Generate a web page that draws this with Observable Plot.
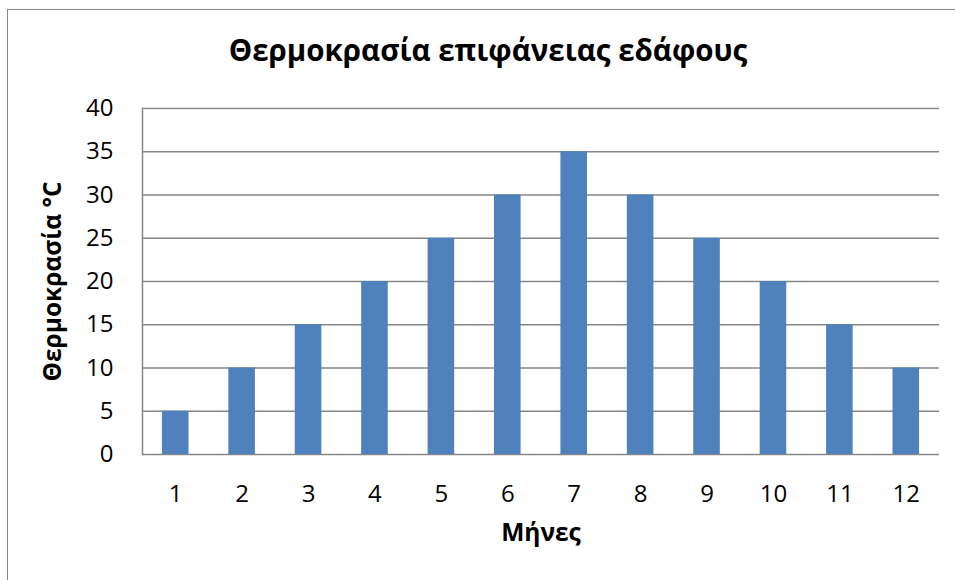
<!DOCTYPE html>
<html>
<head>
<meta charset="utf-8">
<script src="https://cdn.jsdelivr.net/npm/d3@7"></script>
<script src="https://cdn.jsdelivr.net/npm/@observablehq/plot@0.6"></script>
<style>
  html, body { margin: 0; padding: 0; background: #fff; }
  #wrap { position: relative; width: 955px; height: 580px; overflow: hidden; font-family: "Open Sans", sans-serif; }
  #frame { position: absolute; left: 7px; top: 9px; width: 980px; height: 600px; border: 1.5px solid #868686; box-sizing: border-box; }
  #title { position: absolute; left: 0; width: 976px; top: 30px; text-align: center; font-weight: bold; font-size: 29.5px; color: #000; line-height: 40px; }
  #chart { position: absolute; left: 0; top: 0; }
</style>
</head>
<body>
<div id="wrap">
  <div id="frame"></div>
  <div id="chart"></div>
  <div id="title">Θερμοκρασία επιφάνειας εδάφους</div>
</div>
<script>
const months = [1, 2, 3, 4, 5, 6, 7, 8, 9, 10, 11, 12];
const temperatures = [5, 10, 15, 20, 25, 30, 35, 30, 25, 20, 15, 10];
const yTicks = [0, 5, 10, 15, 20, 25, 30, 35, 40];
const xLabel = "Μήνες";
const yLabel = "Θερμοκρασία °C";

const data = months.map((m, i) => ({month: m, temp: temperatures[i]}));

const chart = Plot.plot({
  width: 955,
  height: 580,
  marginLeft: 142,
  marginRight: 16,
  marginTop: 108,
  marginBottom: 126,
  style: {fontFamily: "'Open Sans', sans-serif", fontSize: "24px", color: "#000", background: "transparent", overflow: "visible"},
  x: {type: "band", domain: months, paddingInner: 0.6, paddingOuter: 0.3, align: 0.5, round: false},
  y: {domain: [0, 40]},
  marks: [
    Plot.ruleY(yTicks, {stroke: "#868686", strokeWidth: 1.5, strokeOpacity: 1}),
    Plot.barY(data, {x: "month", y: "temp", fill: "#4f81bd"}),
    Plot.frame({anchor: "left", stroke: "#868686", strokeWidth: 1.5}),
    Plot.axisY(yTicks, {tickSize: 0, tickPadding: 29, fontSize: 24, fill: "#000", label: null}),
    Plot.axisX(months, {tickSize: 0, tickPadding: 30, fontSize: 24, fill: "#000", label: null}),
    Plot.text([yLabel], {frameAnchor: "left", dx: -89, rotate: -90, textAnchor: "middle", fontSize: 24.5, fontWeight: "bold", fill: "#000", text: d => d}),
    Plot.text([xLabel], {frameAnchor: "bottom", dy: 86, textAnchor: "middle", fontSize: 24.5, fontWeight: "bold", fill: "#000", text: d => d})
  ]
});
document.getElementById("chart").appendChild(chart);
</script>
</body>
</html>
